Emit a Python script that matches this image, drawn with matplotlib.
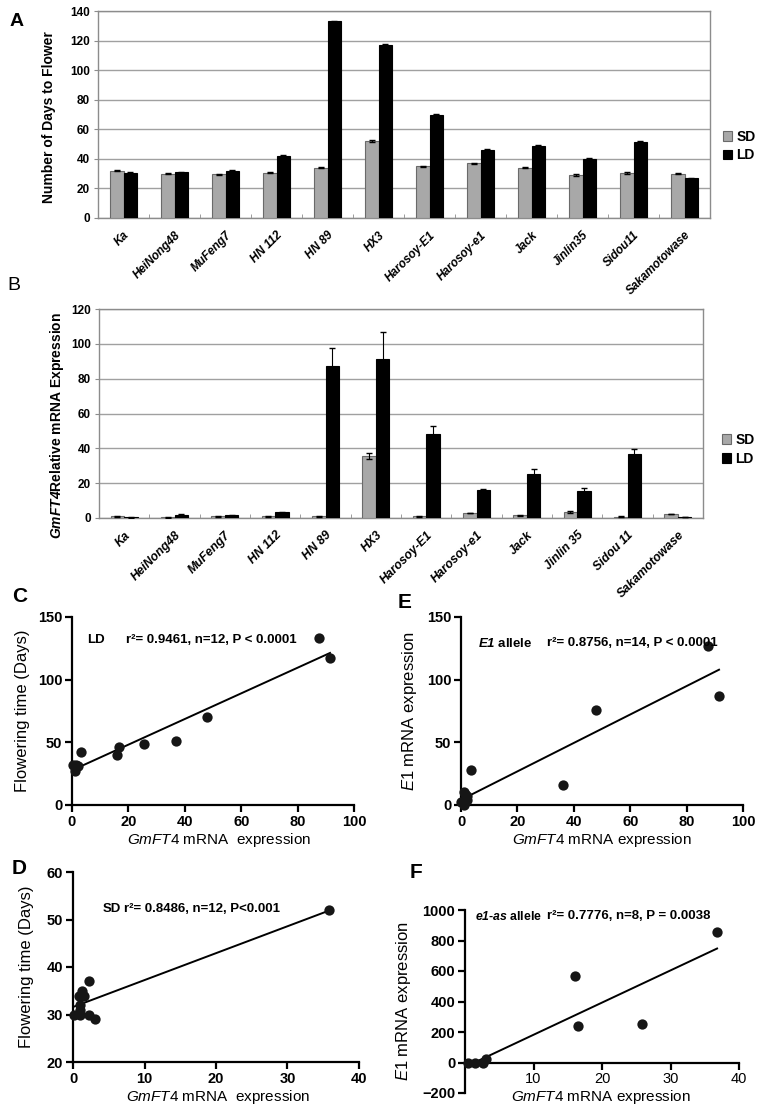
import numpy as np
import matplotlib
matplotlib.use('Agg')
import matplotlib.pyplot as plt
from matplotlib import font_manager

plt.rcParams['font.family'] = ['Liberation Sans', 'DejaVu Sans']
plt.rcParams['mathtext.fontset'] = 'custom'
plt.rcParams['mathtext.rm'] = 'Liberation Sans'
plt.rcParams['mathtext.it'] = 'Liberation Sans:italic'
plt.rcParams['mathtext.bf'] = 'Liberation Sans:italic:bold'

# la fuente estrecha no siempre esta instalada
nombres = {f.name for f in font_manager.fontManager.ttflist}
if 'Liberation Sans Narrow' in nombres:
    NARROW = ['Liberation Sans Narrow', 'DejaVu Sans']
    narrow_size = 10.5
else:
    NARROW = ['Liberation Sans', 'DejaVu Sans']
    narrow_size = 8.5

# --- datos panel A: dias a floracion ---
cultivares_a = ['Ka', 'HeiNong48', 'MuFeng7', 'HN 112', 'HN 89', 'HX3', 'Harosoy-E1',
                'Harosoy-e1', 'Jack', 'Jinlin35', 'Sidou11', 'Sakamotowase']
dias_sd = [32, 30, 29.5, 30.5, 34, 52, 35, 37, 34, 29, 30.5, 30]
dias_ld = [30.5, 31, 32, 42, 133, 117, 70, 46, 49, 40, 51.5, 27]
dias_sd_err = [0.5, 0.3, 0.5, 0.3, 0.5, 0.5, 0.5, 0.3, 0.5, 0.5, 0.5, 0.5]
dias_ld_err = [0.5, 0.3, 0.3, 0.5, 0.5, 0.5, 0.3, 0.5, 0.5, 0.3, 0.3, 0.3]

# --- datos panel B: expresion GmFT4 ---
cultivares_b = ['Ka', 'HeiNong48', 'MuFeng7', 'HN 112', 'HN 89', 'HX3', 'Harosoy-E1',
                'Harosoy-e1', 'Jack', 'Jinlin 35', 'Sidou 11', 'Sakamotowase']
ft4_sd = [1.0, 0.3, 1.0, 1.0, 1.0, 35.5, 1.0, 2.8, 1.5, 3.2, 0.8, 2.3]
ft4_sd_err = [0.2, 0.1, 0.2, 0.2, 0.2, 1.8, 0.2, 0.2, 0.2, 0.6, 0.3, 0.2]
ft4_ld = [0.3, 2.0, 1.5, 3.3, 87.5, 91.5, 48, 16, 25.5, 15.5, 36.5, 0.5]
ft4_ld_err = [0.1, 0.3, 0.3, 0.3, 10, 15.5, 5, 0.5, 2.5, 1.8, 3.0, 0.2]

# --- datos de correlacion ---
c_x = [0.3, 2.0, 1.5, 3.3, 87.5, 91.5, 48, 16.5, 25.5, 16, 37, 1.0]
c_y = [32, 31, 32, 42, 133, 117, 70, 46, 49, 40, 51, 27]

d_x = [1.0, 0.1, 1.0, 1.0, 1.0, 35.8, 1.3, 2.3, 1.5, 3.1, 0.9, 2.3]
d_y = [32, 30, 30, 31, 34, 52, 35, 37, 34, 29, 34, 30]

e_x = [91.5, 87.5, 48, 36, 3.5, 1.0, 1.5, 2.0, 2.0, 1.5, 0.5, 0.0, 1.0, 1.0]
e_y = [87, 127, 76, 16, 28, 10, 9, 7, 4, 3, 2, 2, 1, 0]

f_x = [0.5, 1.4, 2.7, 3.1, 16, 16.5, 25.8, 36.8]
f_y = [0, 0, -5, 20, 570, 240, 255, 855]

W, H = 758, 1110
fig = plt.figure(figsize=(W / 100, H / 100), dpi=100)


def caja(izq, der, arriba, abajo):
    return [izq / W, 1 - abajo / H, (der - izq) / W, (abajo - arriba) / H]


def panel_barras(ax, etiquetas, sd, ld, sd_err, ld_err, ymax, fam_x, size_x):
    x = np.arange(len(etiquetas))
    w = 0.27
    ax.bar(x - w / 2, sd, w, color='#a8a8a8', edgecolor='#6a6a6a', linewidth=0.8, label='SD', zorder=3)
    ax.bar(x + w / 2, ld, w, color='black', edgecolor='black', linewidth=0.8, label='LD', zorder=3)
    ax.errorbar(x - w / 2, sd, yerr=sd_err, fmt='none', ecolor='black', elinewidth=0.8, capsize=2.5, zorder=4)
    ax.errorbar(x + w / 2, ld, yerr=ld_err, fmt='none', ecolor='black', elinewidth=0.8, capsize=2.5, zorder=4)
    ax.set_xlim(-0.5, len(etiquetas) - 0.5)
    ax.set_ylim(0, ymax)
    ax.set_yticks(np.arange(0, ymax + 1, 20))
    ax.yaxis.grid(True, color='#a0a0a0', linewidth=1.0, zorder=0)
    for s in ax.spines.values():
        s.set_color('#8c8c8c')
        s.set_linewidth(1.0)
    ax.set_xticks(x)
    ax.set_xticklabels(etiquetas, rotation=45, ha='right', rotation_mode='anchor',
                       family=fam_x, style='italic', weight='bold', fontsize=size_x)
    ax.set_xticks(np.arange(0.5, len(etiquetas) - 1, 1), minor=True)
    ax.tick_params(axis='x', which='major', length=0, pad=8)
    ax.tick_params(axis='x', which='minor', length=3, direction='in', color='#8c8c8c')
    ax.tick_params(axis='y', length=3, color='#8c8c8c', pad=3)
    for t in ax.get_yticklabels():
        t.set_family(NARROW)
        t.set_weight('bold')
        t.set_fontsize(narrow_size)
    leg = ax.legend(loc='center left', frameon=False, handlelength=0.7, handleheight=0.7,
                    handletextpad=0.3, labelspacing=0.35,
                    prop={'family': NARROW, 'weight': 'bold', 'size': 10})
    return leg


# Panel A
ax_a = fig.add_axes(caja(98, 710, 11, 218))
leg = panel_barras(ax_a, cultivares_a, dias_sd, dias_ld, dias_sd_err, dias_ld_err, 140, NARROW, narrow_size)
leg.set_bbox_to_anchor((1.0, 0.348))
ax_a.set_ylabel('Number of Days to Flower', fontsize=10, weight='bold')
ax_a.yaxis.set_label_coords(-0.069, 0.49)

# Panel B
ax_b = fig.add_axes(caja(99, 703, 309, 518))
leg = panel_barras(ax_b, cultivares_b, ft4_sd, ft4_ld, ft4_sd_err, ft4_ld_err, 120,
                   ['Liberation Sans', 'DejaVu Sans'], 8.8)
leg.set_bbox_to_anchor((1.01, 0.328))
ax_b.set_ylabel(r'$\mathbf{GmFT4}$Relative mRNA Expression', fontsize=10, weight='bold')
ax_b.yaxis.set_label_coords(-0.055, 0.445)


def panel_disp(ax, x, y, xlim, ylim, xticks, yticks):
    ax.scatter(x, y, s=55, color='#161616', zorder=3, clip_on=False, linewidths=0)
    k, b = np.polyfit(x, y, 1)
    xs = np.array([min(x), max(x)])
    ax.plot(xs, k * xs + b, color='black', linewidth=1.4, zorder=2)
    ax.set_xlim(*xlim)
    ax.set_ylim(*ylim)
    ax.set_xticks(xticks)
    ax.set_yticks(yticks)
    ax.spines['top'].set_visible(False)
    ax.spines['right'].set_visible(False)
    ax.spines['left'].set_linewidth(1.6)
    ax.spines['bottom'].set_linewidth(1.6)
    ax.tick_params(width=1.6, length=5, labelsize=10.5, pad=2)
    for t in ax.get_xticklabels() + ax.get_yticklabels():
        t.set_weight('bold')


def etiqueta_x(ax, texto, cx, cy):
    ax.set_xlabel(texto, fontsize=11)
    ax.xaxis.set_label_coords(cx, cy)
    ax.xaxis.label.set_va('center')


# Panel C
ax_c = fig.add_axes(caja(72, 354, 617, 805))
panel_disp(ax_c, c_x, c_y, (0, 100), (0, 150), np.arange(0, 101, 20), [0, 50, 100, 150])
ax_c.set_ylabel('Flowering time (Days)', fontsize=12)
ax_c.yaxis.set_label_coords(-0.15, 0.5)
etiqueta_x(ax_c, r'$\mathit{GmFT4}$ mRNA  expression', 0.52, (805 - 840) / 188)
ax_c.text(0.055, 0.88, 'LD', transform=ax_c.transAxes, fontsize=9.5, weight='bold', va='center')
ax_c.text(0.19, 0.88, 'r²= 0.9461, n=12, P < 0.0001', transform=ax_c.transAxes,
          fontsize=9.5, weight='bold', va='center')

# Panel E
ax_e = fig.add_axes(caja(461, 743, 617, 805))
panel_disp(ax_e, e_x, e_y, (0, 100), (0, 150), np.arange(0, 101, 20), [0, 50, 100, 150])
ax_e.set_ylabel(r'$\mathit{E1}$ mRNA expression', fontsize=12)
ax_e.yaxis.set_label_coords(-0.15, 0.5)
etiqueta_x(ax_e, r'$\mathit{GmFT4}$ mRNA expression', 0.5, (805 - 840) / 188)
ax_e.text(0.06, 0.86, r'$\mathbf{E1}$ allele', transform=ax_e.transAxes, fontsize=9.5,
          weight='bold', va='center')
ax_e.text(0.305, 0.86, 'r²= 0.8756, n=14, P < 0.0001', transform=ax_e.transAxes,
          fontsize=9.5, weight='bold', va='center')

# Panel D
ax_d = fig.add_axes(caja(73, 359, 872, 1062))
panel_disp(ax_d, d_x, d_y, (0, 40), (20, 60), [0, 10, 20, 30, 40], [20, 30, 40, 50, 60])
ax_d.set_ylabel('Flowering time (Days)', fontsize=12)
ax_d.yaxis.set_label_coords(-0.135, 0.5)
etiqueta_x(ax_d, r'$\mathit{GmFT4}$ mRNA  expression', 0.507, (1062 - 1097) / 190)
ax_d.text(0.105, 0.805, 'SD', transform=ax_d.transAxes, fontsize=9.5, weight='bold', va='center')
ax_d.text(0.18, 0.805, 'r²= 0.8486, n=12, P<0.001', transform=ax_d.transAxes,
          fontsize=9.5, weight='bold', va='center')

# Panel F
ax_f = fig.add_axes(caja(465, 739, 910, 1093))
panel_disp(ax_f, f_x, f_y, (0, 40), (-200, 1000), [10, 20, 30, 40], np.arange(-200, 1001, 200))
ax_f.spines['bottom'].set_position(('data', 0))
ax_f.set_ylabel(r'$\mathit{E1}$ mRNA expression', fontsize=12)
ax_f.yaxis.set_label_coords(-0.19, 0.5)
etiqueta_x(ax_f, r'$\mathit{GmFT4}$ mRNA expression', 0.496, (1093 - 1097) / 183)
ax_f.text(0.035, 0.967, r'$\mathbf{e1}$-$\mathbf{as}$ allele', transform=ax_f.transAxes,
          fontsize=8.8, weight='bold', va='center')
ax_f.text(0.3, 0.967, 'r²= 0.7776, n=8, P = 0.0038', transform=ax_f.transAxes,
          fontsize=9.5, weight='bold', va='center')

# letras de los paneles
fig.text(10 / W, 1 - 22 / H, 'A', family=NARROW, weight='bold', fontsize=14, va='center')
fig.text(7 / W, 1 - 285 / H, 'B', fontsize=14, va='center')
fig.text(12 / W, 1 - 597 / H, 'C', weight='bold', fontsize=15, va='center')
fig.text(398 / W, 1 - 602 / H, 'E', weight='bold', fontsize=15, va='center')
fig.text(12 / W, 1 - 868 / H, 'D', weight='bold', fontsize=15, va='center')
fig.text(410 / W, 1 - 872 / H, 'F', weight='bold', fontsize=15, va='center')

fig.savefig('out.png', dpi=100)
